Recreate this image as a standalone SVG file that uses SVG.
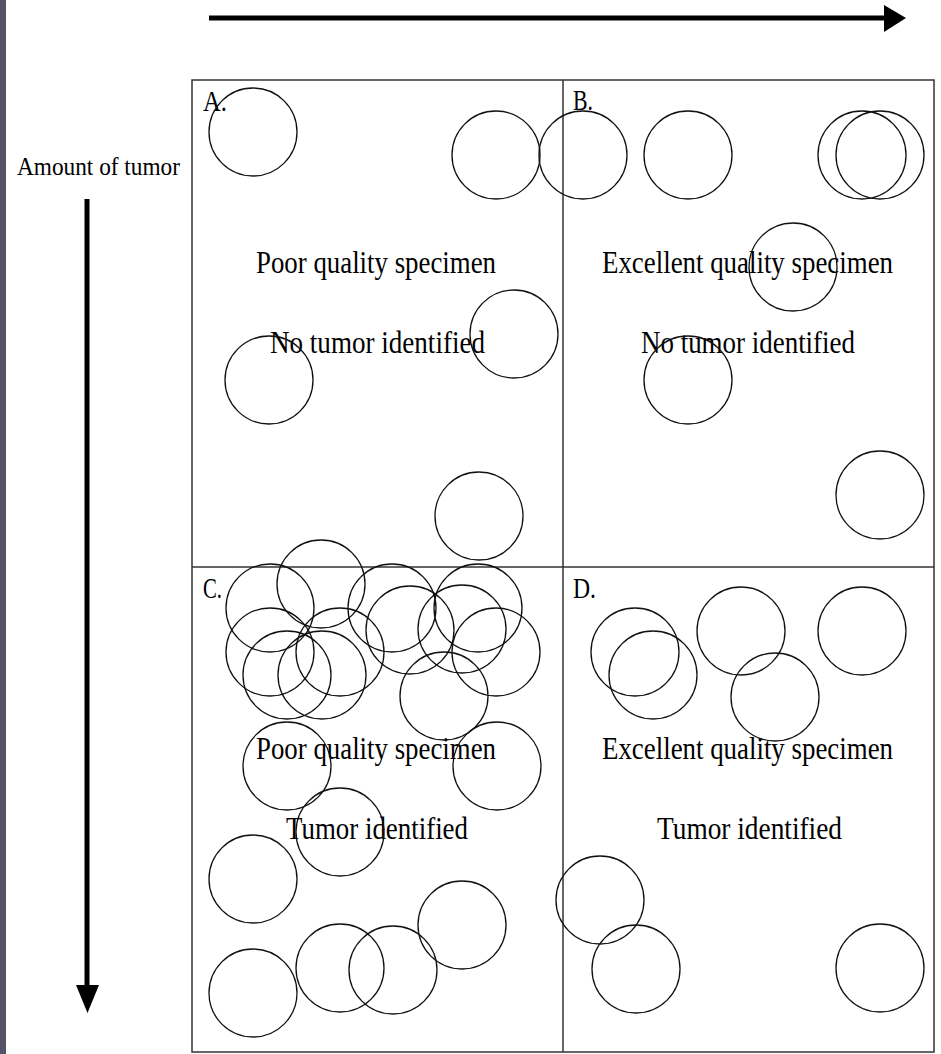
<svg xmlns="http://www.w3.org/2000/svg" width="941" height="1054" viewBox="0 0 941 1054">
<style>
.c{fill:none;stroke:#111;stroke-width:1.3}
.t{font-family:"Liberation Serif","Times New Roman",serif;font-size:31px;fill:#000}
.lb{font-family:"Liberation Serif","Times New Roman",serif;font-size:30px;fill:#000}
.ax{stroke:#000;stroke-width:5;fill:none}
</style>
<rect x="0" y="0" width="941" height="1054" fill="#fff"/>
<rect x="0" y="0" width="6" height="1054" fill="#525366"/>
<g id="axes">
<line class="ax" x1="209" y1="18" x2="886" y2="18"/>
<polygon points="884,5 906,18 884,32" fill="#000"/>
<line class="ax" x1="87" y1="199" x2="87" y2="987"/>
<polygon points="76,985 99,985 87.5,1013" fill="#000"/>
</g>
<g id="axis-label">
<text x="17" y="175" font-family="Liberation Serif, serif" font-size="25" textLength="163" lengthAdjust="spacingAndGlyphs">Amount of tumor</text>
</g>
<g id="frame" fill="none" stroke="#333" stroke-width="1.5">
<rect x="192" y="80" width="742" height="972"/>
<line x1="563" y1="80" x2="563" y2="1052"/>
<line x1="192" y1="567" x2="934" y2="567"/>
</g>
<g id="quadrant-A">
<text class="lb" x="203" y="111" textLength="24" lengthAdjust="spacingAndGlyphs">A.</text>
<text class="t" x="256" y="273" textLength="240" lengthAdjust="spacingAndGlyphs">Poor quality specimen</text>
<text class="t" x="270" y="353" textLength="215" lengthAdjust="spacingAndGlyphs">No tumor identified</text>
<circle class="c" cx="253" cy="132" r="44"/>
<circle class="c" cx="496" cy="155" r="44"/>
<circle class="c" cx="514" cy="334" r="44"/>
<circle class="c" cx="269" cy="380" r="44"/>
<circle class="c" cx="479" cy="516" r="44"/>
</g>
<g id="quadrant-B">
<text class="lb" x="573" y="110" textLength="20" lengthAdjust="spacingAndGlyphs">B.</text>
<text class="t" x="602" y="273" textLength="291" lengthAdjust="spacingAndGlyphs">Excellent quality specimen</text>
<text class="t" x="641" y="353" textLength="214" lengthAdjust="spacingAndGlyphs">No tumor identified</text>
<circle class="c" cx="583" cy="155" r="44"/>
<circle class="c" cx="688" cy="155" r="44"/>
<circle class="c" cx="862" cy="155" r="44"/>
<circle class="c" cx="880" cy="155" r="44"/>
<circle class="c" cx="793" cy="267" r="44"/>
<circle class="c" cx="688" cy="380" r="44"/>
<circle class="c" cx="880" cy="495" r="44"/>
</g>
<g id="quadrant-C">
<text class="lb" x="203" y="598" textLength="19" lengthAdjust="spacingAndGlyphs">C.</text>
<text class="t" x="256" y="759" textLength="240" lengthAdjust="spacingAndGlyphs">Poor quality specimen</text>
<text class="t" x="286" y="839" textLength="182" lengthAdjust="spacingAndGlyphs">Tumor identified</text>
<circle class="c" cx="270" cy="608" r="44"/>
<circle class="c" cx="321" cy="584" r="44"/>
<circle class="c" cx="270" cy="652" r="44"/>
<circle class="c" cx="287" cy="675" r="44"/>
<circle class="c" cx="322" cy="675" r="44"/>
<circle class="c" cx="340" cy="652" r="44"/>
<circle class="c" cx="392" cy="608" r="44"/>
<circle class="c" cx="410" cy="630" r="44"/>
<circle class="c" cx="462" cy="629" r="44"/>
<circle class="c" cx="478" cy="608" r="44"/>
<circle class="c" cx="496" cy="652" r="44"/>
<circle class="c" cx="444" cy="696" r="44"/>
<circle class="c" cx="287" cy="766" r="44"/>
<circle class="c" cx="497" cy="766" r="44"/>
<circle class="c" cx="340" cy="832" r="44"/>
<circle class="c" cx="253" cy="879" r="44"/>
<circle class="c" cx="253" cy="993" r="44"/>
<circle class="c" cx="340" cy="968" r="44"/>
<circle class="c" cx="393" cy="970" r="44"/>
<circle class="c" cx="462" cy="925" r="44"/>
</g>
<g id="quadrant-D">
<text class="lb" x="573" y="598" textLength="23" lengthAdjust="spacingAndGlyphs">D.</text>
<text class="t" x="602" y="759" textLength="291" lengthAdjust="spacingAndGlyphs">Excellent quality specimen</text>
<text class="t" x="657" y="839" textLength="185" lengthAdjust="spacingAndGlyphs">Tumor identified</text>
<circle class="c" cx="635" cy="652" r="44"/>
<circle class="c" cx="653" cy="675" r="44"/>
<circle class="c" cx="741" cy="631" r="44"/>
<circle class="c" cx="775" cy="697" r="44"/>
<circle class="c" cx="862" cy="631" r="44"/>
<circle class="c" cx="600" cy="900" r="44"/>
<circle class="c" cx="636" cy="969" r="44"/>
<circle class="c" cx="880" cy="968" r="44"/>
</g>
</svg>
